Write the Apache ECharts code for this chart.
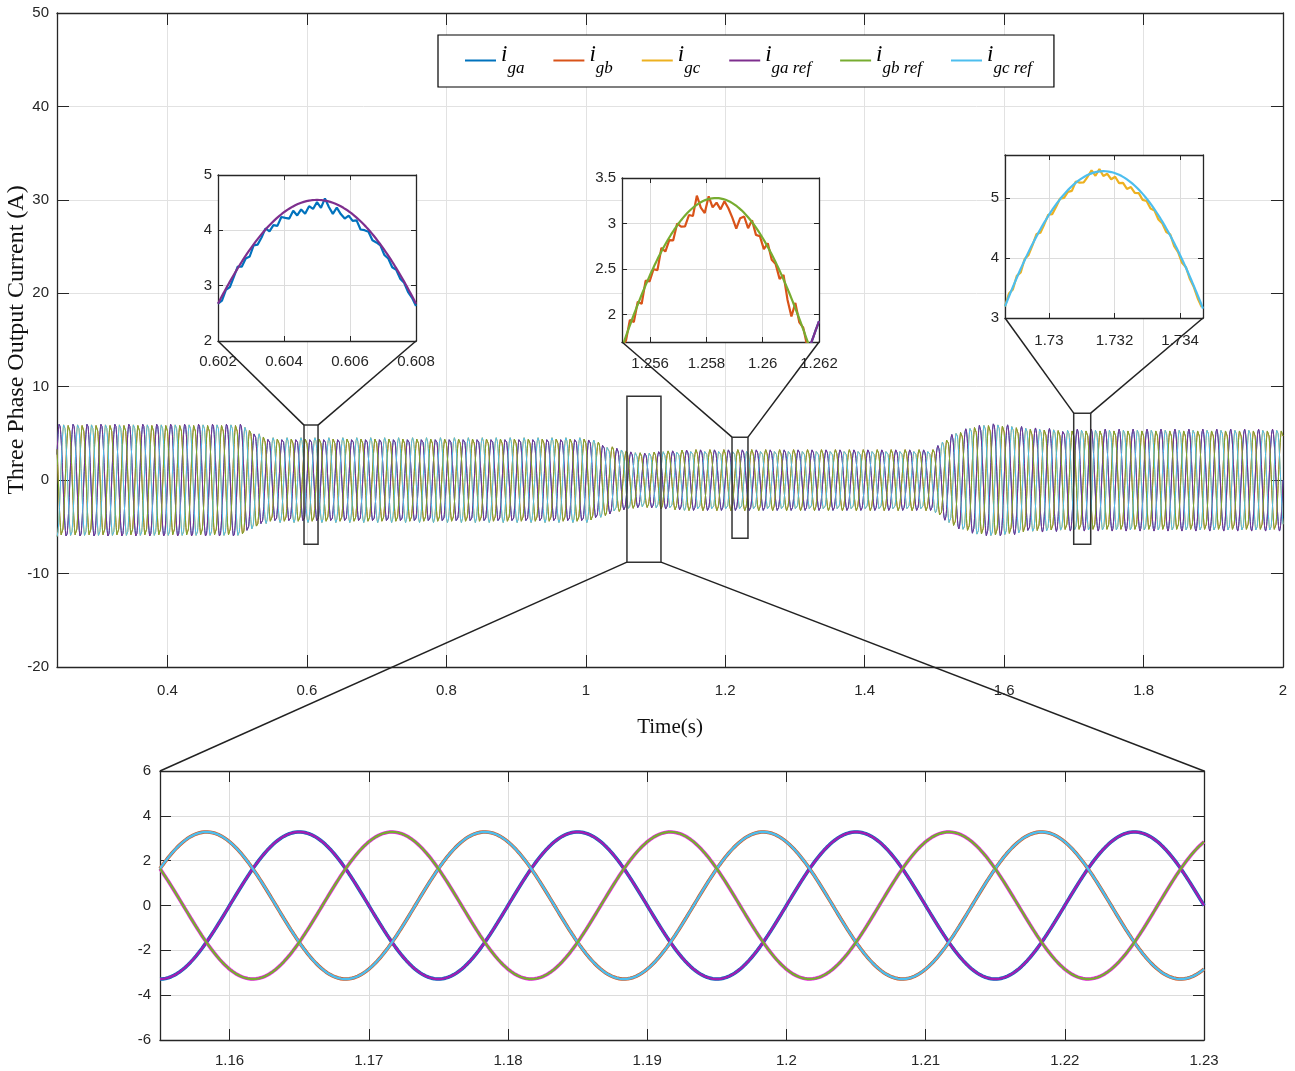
<!DOCTYPE html>
<html>
<head>
<meta charset="utf-8">
<script src="https://cdn.jsdelivr.net/npm/echarts@6/dist/echarts.min.js"></script>
<style>
  html, body { margin: 0; padding: 0; background: #fff; }
  #chart { width: 1295px; height: 1071px; }
</style>
</head>
<body>
<div id="chart"></div>
<script>
// ---------------- data ----------------
const FREQ = 50;                       // grid frequency (Hz)
const T_START = 0.2415, T_END = 2;     // recorded time span (s)

// peak-current envelope of the three-phase output (time s, amplitude A)
const envTime = [0.2415, 0.505, 0.524, 0.545, 1.003, 1.026, 1.06, 1.083, 1.107, 1.15, 1.498, 1.527, 1.56, 1.585, 1.64, 1.69, 2.0];
const envAmp  = [6.05,   6.05,  5.2,   4.55,  4.55,  3.85,  3.1,  2.9,   3.1,   3.28, 3.28,  5.0,   5.9,  6.1,   5.6,  5.45, 5.45];

// phase a, b, c electrical offsets (rad)
const phaseShift = [0, 2 * Math.PI / 3, -2 * Math.PI / 3];
const seriesNames = ['i_ga', 'i_gb', 'i_gc', 'i_ga ref', 'i_gb ref', 'i_gc ref'];

// measured-minus-reference ripple in each zoom window
const dev1Start = 0.602,   dev1Step = 0.00012;
const dev1 = [0, -0.08, -0.02, -0.1, -0.04, 0.03, -0.09, -0.05, -0.12, -0.02,
  -0.1, -0.06, 0.02, -0.11, -0.07, -0.15, -0.05, -0.12, -0.18, -0.08,
  -0.2, -0.12, -0.22, -0.1, -0.16, -0.04, -0.14, 0.04, -0.1, -0.2,
  -0.06, -0.14, -0.18, -0.08, -0.12, -0.05, -0.15, -0.09, -0.04, -0.11,
  -0.06, -0.02, -0.09, -0.05, -0.1, -0.03, -0.07, -0.02, -0.06, -0.03, -0.04];
const dev2Start = 1.255,   dev2Step = 0.00014;
const dev2 = [0.02, -0.05, 0.06, -0.08, 0.03, -0.1, 0.05, -0.06, -0.02, -0.12,
  0.04, -0.08, -0.03, -0.1, 0.02, -0.07, -0.12, -0.04, -0.09, 0.1,
  -0.06, -0.14, 0.03, -0.1, -0.05, -0.12, -0.02, -0.08, -0.16, -0.25,
  -0.1, -0.04, -0.12, 0.02, -0.08, -0.03, -0.1, 0.04, -0.06, -0.02,
  -0.09, 0.05, -0.12, -0.2, 0.06, -0.04, 0.02, -0.06, 0.03, -0.02, 0];
const dev3Start = 1.72866, dev3Step = 0.00012;
const dev3 = [0, 0.05, -0.04, 0.03, -0.06, 0.02, -0.05, -0.02, 0.04, -0.06,
  -0.03, 0.02, -0.07, -0.04, 0.01, -0.06, -0.03, -0.08, 0.02, -0.05,
  -0.09, -0.03, 0.05, -0.06, 0.04, -0.08, -0.04, -0.12, -0.06, -0.14,
  -0.1, -0.16, -0.08, -0.12, -0.06, -0.1, -0.04, -0.08, -0.02, -0.07,
  -0.03, -0.06, 0.02, -0.05, -0.02, -0.06, 0.01, -0.04, -0.02, -0.05, -0.03];

// axis ranges
const mainY   = [-20, 50];
const inset1X = [0.602, 0.608],   inset1Y = [2, 5];
const inset2X = [1.255, 1.262],   inset2Y = [1.7, 3.5];
const inset3X = [1.72866, 1.7347], inset3Y = [3, 5.72];
const bottomX = [1.155, 1.23],    bottomY = [-6, 6];

// tick labels
const mainXTicks   = [0.4, 0.6, 0.8, 1, 1.2, 1.4, 1.6, 1.8, 2];
const mainYTicks   = [-20, -10, 0, 10, 20, 30, 40, 50];
const inset1XTicks = [0.602, 0.604, 0.606, 0.608];
const inset1YTicks = [2, 3, 4, 5];
const inset2XTicks = [1.256, 1.258, 1.26, 1.262];
const inset2YTicks = [2, 2.5, 3, 3.5];
const inset3XTicks = [1.73, 1.732, 1.734];
const inset3YTicks = [3, 4, 5];
const bottomXTicks = [1.16, 1.17, 1.18, 1.19, 1.2, 1.21, 1.22, 1.23];
const bottomYTicks = [-6, -4, -2, 0, 2, 4, 6];

// zoom boxes on the main plot: [t0, t1, i0, i1] and the panel each one opens
const zoomBoxes = [
  [0.5958, 0.6159, -6.85, 5.89],
  [1.0590, 1.1078, -8.78, 8.99],
  [1.2097, 1.2326, -6.21, 4.60],
  [1.6998, 1.7242, -6.85, 7.17]
];
const zoomTargets = [1, 4, 2, 3];

// ---------------- waveform model ----------------
function envelope(t) {
  if (t <= envTime[0]) return envAmp[0];
  for (let i = 1; i < envTime.length; i++) {
    if (t <= envTime[i]) {
      const f = (t - envTime[i - 1]) / (envTime[i] - envTime[i - 1]);
      return envAmp[i - 1] + f * (envAmp[i] - envAmp[i - 1]);
    }
  }
  return envAmp[envAmp.length - 1];
}
function wave(t, k) { return envelope(t) * Math.sin(2 * Math.PI * FREQ * t + phaseShift[k]); }
function sampleWave(k, t0, t1, dt) {
  const out = [], n = Math.round((t1 - t0) / dt);
  for (let i = 0; i <= n; i++) { const t = t0 + i * dt; out.push([t, wave(t, k)]); }
  return out;
}
function rippleWave(k, start, step, dev) {
  return dev.map((d, i) => { const t = start + i * step; return [t, wave(t, k) + d]; });
}

// ---------------- layout ----------------
const grids = [
  { left: 57,   top: 13,  width: 1226, height: 654 },
  { left: 218,  top: 175, width: 198,  height: 166 },
  { left: 622,  top: 178, width: 197,  height: 164 },
  { left: 1005, top: 155, width: 198,  height: 163 },
  { left: 160,  top: 771, width: 1044, height: 269 }
];

const TICK_FONT = "'Liberation Sans Narrow', 'Liberation Sans', Arial, sans-serif";
const SERIF = "'Liberation Serif', 'Times New Roman', serif";
const AXIS_COLOR = '#262626';

function tickFormatter(ticks) {
  return v => ticks.some(t => Math.abs(t - v) < 1e-7) ? String(+(+v).toFixed(6)) : '';
}

const xAxes = [], yAxes = [];
function addAxes(gi, xr, yr, xt, yt, o) {
  const zz = o.z || 0;
  const common = {
    gridIndex: gi, type: 'value', z: zz,
    axisLine: { show: true, onZero: false, lineStyle: { color: AXIS_COLOR, width: o.lineW } },
    axisTick: { show: true, inside: true, length: o.tickLen, lineStyle: { color: AXIS_COLOR, width: 1 } }
  };
  const xScale = { min: xr[0], max: xr[1] };
  if (o.xInterval) xScale.interval = o.xInterval; else xScale.splitNumber = o.xSplit;
  const yScale = { min: yr[0], max: yr[1] };
  if (o.yInterval) yScale.interval = o.yInterval; else yScale.splitNumber = o.ySplit;

  xAxes.push(Object.assign({}, common, xScale, {
    position: 'bottom',
    axisLabel: { show: true, margin: o.xMargin, fontSize: o.fs, color: AXIS_COLOR, fontFamily: TICK_FONT,
      formatter: tickFormatter(xt), showMinLabel: true, showMaxLabel: true, hideOverlap: false },
    splitLine: { show: true, lineStyle: { color: o.gridColor, width: 1 } }
  }, o.xExtra || {}));
  xAxes.push(Object.assign({}, common, xScale, {
    position: 'top', axisLabel: { show: false }, splitLine: { show: false }
  }));
  yAxes.push(Object.assign({}, common, yScale, {
    position: 'left',
    axisLabel: { show: true, margin: o.yMargin, fontSize: o.fs, color: AXIS_COLOR, fontFamily: TICK_FONT,
      formatter: tickFormatter(yt), showMinLabel: true, showMaxLabel: true, hideOverlap: false },
    splitLine: { show: true, lineStyle: { color: o.gridColor, width: 1 } }
  }, o.yExtra || {}));
  yAxes.push(Object.assign({}, common, yScale, {
    position: 'right', axisLabel: { show: false }, splitLine: { show: false }
  }));
}

addAxes(0, [T_START, T_END], mainY, mainXTicks, mainYTicks, {
  lineW: 1.3, tickLen: 12, fs: 15, xMargin: 16, yMargin: 8, xSplit: 9, yInterval: 10, gridColor: '#e2e2e2',
  xExtra: { name: 'Time(s)', nameLocation: 'middle', nameGap: 50,
    nameTextStyle: { fontFamily: SERIF, fontSize: 21, color: '#111' } },
  yExtra: { name: 'Three Phase Output Current (A)', nameLocation: 'middle', nameGap: 28, nameMoveOverlap: false,
    nameTextStyle: { fontFamily: SERIF, fontSize: 24, color: '#111' } }
});
addAxes(1, inset1X, inset1Y, inset1XTicks, inset1YTicks, {
  z: 3, lineW: 1.3, tickLen: 5, fs: 15, xMargin: 13, yMargin: 6, xInterval: 0.002, yInterval: 1, gridColor: '#dcdcdc'
});
addAxes(2, inset2X, inset2Y, inset2XTicks, inset2YTicks, {
  z: 3, lineW: 1.3, tickLen: 5, fs: 15, xMargin: 14, yMargin: 6, xSplit: 4, ySplit: 4, gridColor: '#dcdcdc'
});
addAxes(3, inset3X, inset3Y, inset3XTicks, inset3YTicks, {
  z: 3, lineW: 1.3, tickLen: 5, fs: 15, xMargin: 15, yMargin: 6, xSplit: 3, ySplit: 3, gridColor: '#dcdcdc'
});
addAxes(4, bottomX, bottomY, bottomXTicks, bottomYTicks, {
  lineW: 1.3, tickLen: 11, fs: 15, xMargin: 13, yMargin: 9, xSplit: 7, yInterval: 2, gridColor: '#dcdcdc'
});

// ---------------- series ----------------
const measColors = ['#0072BD', '#D95319', '#EDB120'];
const refColors  = ['#7E2F8E', '#77AC30', '#4DBEEE'];
const bottomMeasColors = ['#0072BD', '#D95319', '#F21FF2'];
const bottomRefColors  = ['#A01DB2', '#4DBEEE', '#77AC30'];

const series = [];
function line(name, gi, data, color, width, z) {
  series.push({
    name, type: 'line', xAxisIndex: gi * 2, yAxisIndex: gi * 2, data,
    symbol: 'none', showSymbol: false, clip: true, z,
    lineStyle: { color, width }, itemStyle: { color },
    emphasis: { disabled: true }, silent: true
  });
}

// main plot: measured currents first, references drawn over them
const mainData = [0, 1, 2].map(k => sampleWave(k, T_START, T_END, 0.0005));
[0, 1, 2].forEach(k => line(seriesNames[k], 0, mainData[k], measColors[k], 1, 2));
[0, 1, 2].forEach(k => line(seriesNames[k + 3], 0, mainData[k], refColors[k], 1, 2));

// zoom windows
const insets = [
  { gi: 1, xr: inset1X, phase: 0, start: dev1Start, step: dev1Step, dev: dev1 },
  { gi: 2, xr: inset2X, phase: 1, start: dev2Start, step: dev2Step, dev: dev2 },
  { gi: 3, xr: inset3X, phase: 2, start: dev3Start, step: dev3Step, dev: dev3 }
];
insets.forEach(p => {
  [0, 1, 2].forEach(k => {
    const ref = sampleWave(k, p.xr[0], p.xr[1], 0.00002);
    const meas = k === p.phase ? rippleWave(k, p.start, p.step, p.dev) : ref;
    line(seriesNames[k], p.gi, meas, measColors[k], 2.2, 4);
    line(seriesNames[k + 3], p.gi, ref, refColors[k], 2.2, 5);
  });
});

// detailed view of the low-current interval
[0, 1, 2].forEach(k => {
  const d = sampleWave(k, bottomX[0], bottomX[1], 0.0001);
  line(seriesNames[k], 4, d, bottomMeasColors[k], 3.6, 2);
  line(seriesNames[k + 3], 4, d, bottomRefColors[k], 2.4, 3);
});

// ---------------- chart ----------------
const chart = echarts.init(document.getElementById('chart'), null, { renderer: 'canvas' });
chart.setOption({
  animation: false,
  backgroundColor: '#ffffff',
  grid: grids.map((g, i) => Object.assign({
    containLabel: false, outerBoundsMode: 'none',
    show: i >= 1 && i <= 3, backgroundColor: '#ffffff', borderWidth: 0, z: i >= 1 && i <= 3 ? 2 : 0
  }, g)),
  xAxis: xAxes,
  yAxis: yAxes,
  legend: {
    left: 438, top: 35, orient: 'horizontal',
    padding: [8, 22, 9, 27], itemGap: 29, itemWidth: 31, itemHeight: 2, icon: 'rect',
    borderColor: '#000', borderWidth: 1.2, backgroundColor: '#fff',
    data: seriesNames, selectedMode: false, z: 20,
    formatter: name => '{i|i}{s|' + name.slice(2) + '}',
    textStyle: {
      rich: {
        i: { fontFamily: SERIF, fontStyle: 'italic', fontSize: 23, lineHeight: 22,
             padding: [0, 0, 12, 0], color: '#000' },
        s: { fontFamily: SERIF, fontStyle: 'italic', fontSize: 17, lineHeight: 17,
             padding: [16, 0, 0, 0], color: '#000' }
      }
    }
  },
  series
});

// zoom boxes and their connector lines
const graphics = [];
const px = (v) => chart.convertToPixel({ gridIndex: 0 }, v);
zoomBoxes.forEach((b, i) => {
  const p0 = px([b[0], b[3]]), p1 = px([b[1], b[2]]);
  graphics.push({ type: 'rect', z: 30, silent: true,
    shape: { x: p0[0], y: p0[1], width: p1[0] - p0[0], height: p1[1] - p0[1] },
    style: { fill: 'none', stroke: '#333', lineWidth: 1.5 } });
  const g = grids[zoomTargets[i]];
  const above = g.top < p0[1];
  const by = above ? p0[1] : p1[1];
  const gy = above ? g.top + g.height : g.top;
  graphics.push({ type: 'line', z: 30, silent: true,
    shape: { x1: p0[0], y1: by, x2: g.left, y2: gy }, style: { stroke: '#222', lineWidth: 1.5 } });
  graphics.push({ type: 'line', z: 30, silent: true,
    shape: { x1: p1[0], y1: by, x2: g.left + g.width, y2: gy }, style: { stroke: '#222', lineWidth: 1.5 } });
});
chart.setOption({ graphic: graphics });
</script>
</body>
</html>
